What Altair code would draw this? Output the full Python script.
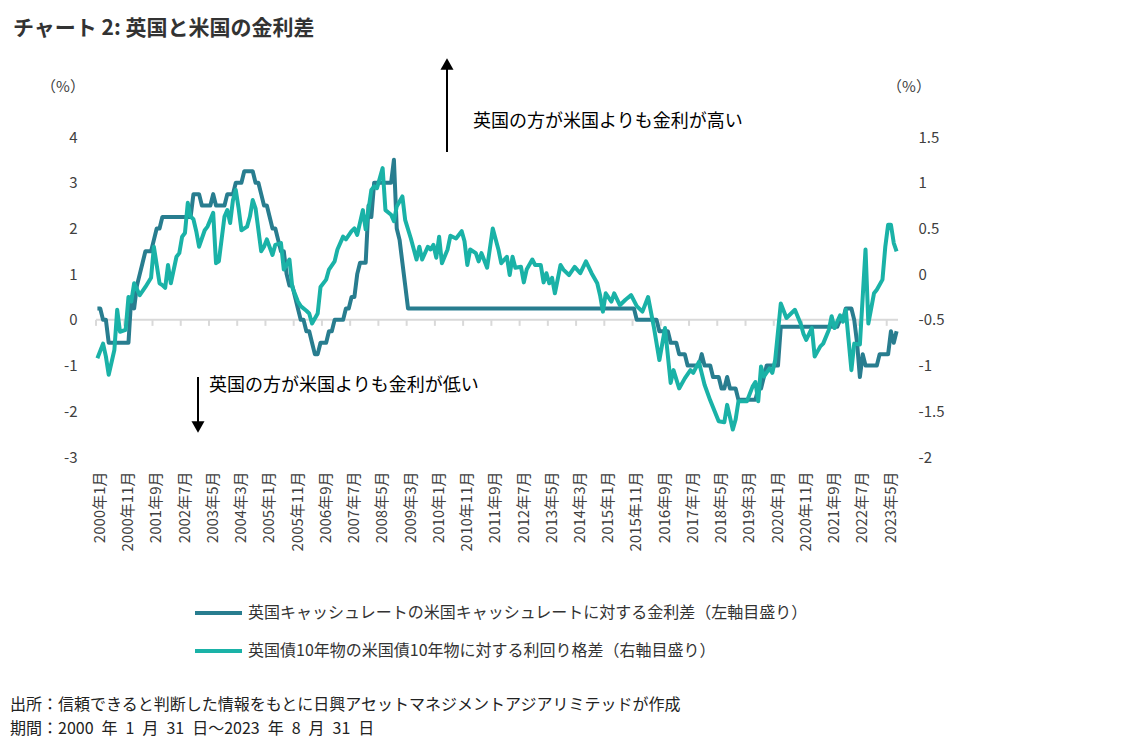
import json
import altair as alt
import pandas as pd

FONT = "Noto Sans CJK JP"
TITLE = "チャート 2: 英国と米国の金利差"
SERIES = [
    "英国キャッシュレートの米国キャッシュレートに対する金利差（左軸目盛り）",
    "英国債10年物の米国債10年物に対する利回り格差（右軸目盛り）",
]
COLORS = ["#287d8f", "#1ab2a7"]
NOTE_SOURCE = "出所：信頼できると判断した情報をもとに日興アセットマネジメントアジアリミテッドが作成"
NOTE_PERIOD = "期間：2000\u2002年\u20021\u2002月\u200231\u2002日～2023\u2002年\u20028\u2002月\u200231\u2002日"
NOTE_UP = "英国の方が米国よりも金利が高い"
NOTE_DOWN = "英国の方が米国よりも金利が低い"
UNIT = "（%）"
BASE_YEAR = 2000

# UK cash rate minus US cash rate (left axis, %), monthly Jan..Dec
CASH_2000 = [0.25, 0.25, 0, 0, -0.5, -0.5, -0.5, -0.5, -0.5, -0.5, -0.5, -0.5]
CASH_2001 = [0.5, 0.25, 0.75, 1.0, 1.25, 1.5, 1.5, 1.5, 1.75, 2.0, 2.0, 2.25]
CASH_2002 = [2.25, 2.25, 2.25, 2.25, 2.25, 2.25, 2.25, 2.25, 2.25, 2.25, 2.75, 2.75]
CASH_2003 = [2.75, 2.5, 2.5, 2.5, 2.5, 2.75, 2.5, 2.5, 2.5, 2.5, 2.75, 2.75]
CASH_2004 = [2.75, 3.0, 3.0, 3.0, 3.25, 3.25, 3.25, 3.25, 3.0, 3.0, 2.75, 2.5]
CASH_2005 = [2.5, 2.25, 2.0, 2.0, 1.75, 1.5, 1.5, 1.0, 0.75, 0.75, 0.5, 0.25]
CASH_2006 = [0, 0, -0.25, -0.25, -0.5, -0.75, -0.75, -0.5, -0.5, -0.5, -0.25, -0.25]
CASH_2007 = [0, 0, 0, 0, 0.25, 0.25, 0.5, 0.5, 1.0, 1.25, 1.25, 1.25]
CASH_2008 = [2.5, 2.25, 3.0, 3.0, 3.0, 3.0, 3.0, 3.0, 3.0, 3.5, 2.0, 1.75]
CASH_2009 = [1.25, 0.75, 0.25, 0.25, 0.25, 0.25, 0.25, 0.25, 0.25, 0.25, 0.25, 0.25]
CASH_2010 = [0.25, 0.25, 0.25, 0.25, 0.25, 0.25, 0.25, 0.25, 0.25, 0.25, 0.25, 0.25]
CASH_2011 = [0.25, 0.25, 0.25, 0.25, 0.25, 0.25, 0.25, 0.25, 0.25, 0.25, 0.25, 0.25]
CASH_2012 = [0.25, 0.25, 0.25, 0.25, 0.25, 0.25, 0.25, 0.25, 0.25, 0.25, 0.25, 0.25]
CASH_2013 = [0.25, 0.25, 0.25, 0.25, 0.25, 0.25, 0.25, 0.25, 0.25, 0.25, 0.25, 0.25]
CASH_2014 = [0.25, 0.25, 0.25, 0.25, 0.25, 0.25, 0.25, 0.25, 0.25, 0.25, 0.25, 0.25]
CASH_2015 = [0.25, 0.25, 0.25, 0.25, 0.25, 0.25, 0.25, 0.25, 0.25, 0.25, 0.25, 0]
CASH_2016 = [0, 0, 0, 0, 0, 0, 0, -0.25, -0.25, -0.25, -0.25, -0.5]
CASH_2017 = [-0.5, -0.5, -0.75, -0.75, -0.75, -1.0, -1.0, -1.0, -1.0, -1.0, -0.75, -1.0]
CASH_2018 = [-1.0, -1.0, -1.25, -1.25, -1.25, -1.5, -1.5, -1.25, -1.5, -1.5, -1.5, -1.75]
CASH_2019 = [-1.75, -1.75, -1.75, -1.75, -1.75, -1.75, -1.5, -1.5, -1.25, -1.0, -1.0, -1.0]
CASH_2020 = [-1.0, -1.0, -0.15, -0.15, -0.15, -0.15, -0.15, -0.15, -0.15, -0.15, -0.15, -0.15]
CASH_2021 = [-0.15, -0.15, -0.15, -0.15, -0.15, -0.15, -0.15, -0.15, -0.15, -0.15, -0.15, 0]
CASH_2022 = [0, 0.25, 0.25, 0.25, 0, -0.5, -1.25, -0.75, -1.0, -1.0, -1.0, -1.0]
CASH_2023 = [-1.0, -0.75, -0.75, -0.75, -0.75, -0.25, -0.5, -0.25]

# UK 10y gilt minus US 10y Treasury yield (right axis, %)
BOND_MONTHS = [
    "2000-01", "2000-03", "2000-04", "2000-05", "2000-07", "2000-08", "2000-09", "2000-11", "2000-12",
    "2001-01", "2001-02", "2001-04", "2001-06", "2001-08", "2001-09", "2001-11", "2001-12",
    "2002-01", "2002-02", "2002-03", "2002-05", "2002-06", "2002-07", "2002-08", "2002-09", "2002-10", "2002-11", "2002-12",
    "2003-01", "2003-03", "2003-04", "2003-06", "2003-07", "2003-08", "2003-10", "2003-11", "2003-12",
    "2004-01", "2004-02", "2004-03", "2004-04", "2004-06", "2004-07", "2004-08", "2004-09", "2004-11", "2004-12",
    "2005-01", "2005-03", "2005-04", "2005-06", "2005-07", "2005-09", "2005-10", "2005-11", "2005-12",
    "2006-01", "2006-03", "2006-04", "2006-05", "2006-07", "2006-08", "2006-10", "2006-11",
    "2007-01", "2007-02", "2007-04", "2007-05", "2007-07", "2007-08", "2007-09", "2007-11", "2007-12",
    "2008-02", "2008-03", "2008-04", "2008-06", "2008-07", "2008-09", "2008-10", "2008-11",
    "2009-01", "2009-02", "2009-04", "2009-06", "2009-07", "2009-08", "2009-10", "2009-11", "2009-12",
    "2010-01", "2010-02", "2010-03", "2010-05", "2010-06", "2010-08", "2010-10", "2010-11", "2010-12",
    "2011-01", "2011-03", "2011-04", "2011-05", "2011-07", "2011-09", "2011-11", "2011-12",
    "2012-02", "2012-03", "2012-04", "2012-05", "2012-07", "2012-08", "2012-09", "2012-11", "2012-12",
    "2013-02", "2013-03", "2013-04", "2013-05", "2013-06", "2013-07", "2013-09", "2013-10", "2013-12",
    "2014-02", "2014-04", "2014-06", "2014-08", "2014-10", "2014-11", "2014-12",
    "2015-01", "2015-03", "2015-04", "2015-06", "2015-08", "2015-10", "2015-12",
    "2016-02", "2016-04", "2016-06", "2016-08", "2016-10", "2016-12",
    "2017-01", "2017-03", "2017-05", "2017-07", "2017-08", "2017-10", "2017-12",
    "2018-02", "2018-05", "2018-07", "2018-08", "2018-10", "2018-11", "2018-12",
    "2019-03", "2019-05", "2019-06", "2019-07", "2019-08", "2019-09", "2019-11", "2019-12",
    "2020-01", "2020-03", "2020-05", "2020-06", "2020-08", "2020-10", "2020-11", "2020-12",
    "2021-02", "2021-03", "2021-05", "2021-06", "2021-08", "2021-09", "2021-10", "2021-12",
    "2022-01", "2022-02", "2022-04", "2022-05", "2022-07", "2022-09", "2022-10", "2022-12",
    "2023-01", "2023-03", "2023-04", "2023-05", "2023-06", "2023-07", "2023-08",
]
BOND_SPREAD = [
    -0.92, -0.76, -0.90, -1.10, -0.83, -0.39, -0.63, -0.61, -0.25,
    -0.30, -0.10, -0.23, -0.14, -0.04, 0.30, -0.10, -0.12,
    -0.15, 0.10, -0.10, 0.19, 0.23, 0.41, 0.45, 0.78, 0.63, 0.60, 0.47,
    0.30, 0.48, 0.52, 0.67, 0.12, 0.14, 0.63, 0.70, 0.56,
    0.81, 0.92, 0.72, 0.48, 0.52, 0.63, 0.81, 0.72, 0.25, 0.30,
    0.38, 0.21, 0.32, 0.34, 0.05, 0.16, -0.14, -0.22, -0.30,
    -0.35, -0.40, -0.43, -0.54, -0.43, -0.14, -0.06, 0.05,
    0.14, 0.27, 0.41, 0.38, 0.47, 0.50, 0.43, 0.70, 0.49,
    0.92, 0.96, 0.94, 1.16, 0.70, 0.65, 0.58, 0.74,
    0.85, 0.59, 0.39, 0.16, 0.30, 0.16, 0.30, 0.27, 0.32,
    0.18, 0.41, 0.12, 0.27, 0.42, 0.39, 0.47, 0.36, 0.10,
    0.27, 0.23, 0.14, 0.23, 0.07, 0.50, 0.27, 0.12,
    0.19, -0.01, 0.19, 0.07, 0.08, -0.09, 0.05, 0.16, 0.10,
    0.10, -0.09, 0.01, -0.10, -0.04, -0.21, 0.10, 0.05, -0.01,
    0.08, 0.01, 0.14, 0.01, -0.10, -0.23, -0.41,
    -0.21, -0.30, -0.21, -0.34, -0.28, -0.23, -0.35,
    -0.41, -0.25, -0.57, -0.94, -0.59, -1.19,
    -1.05, -1.25, -1.14, -1.05, -1.08, -0.96, -1.21,
    -1.38, -1.61, -1.62, -1.43, -1.70, -1.59, -1.39,
    -1.39, -1.23, -1.18, -1.39, -1.01, -1.12, -1.03, -1.08,
    -0.94, -0.32, -0.48, -0.45, -0.39, -0.54, -0.65, -0.72,
    -0.59, -0.90, -0.79, -0.76, -0.61, -0.46, -0.59, -0.45,
    -0.52, -0.39, -1.05, -0.76, -0.77, 0.27, -0.54, -0.21,
    -0.17, -0.06, 0.30, 0.54, 0.54, 0.34, 0.25,
]

TICK_LABELS = [
    "2000年1月", "2000年11月", "2001年9月", "2002年7月", "2003年5月", "2004年3月",
    "2005年1月", "2005年11月", "2006年9月", "2007年7月", "2008年5月", "2009年3月",
    "2010年1月", "2010年11月", "2011年9月", "2012年7月", "2013年5月", "2014年3月",
    "2015年1月", "2015年11月", "2016年9月", "2017年7月", "2018年5月", "2019年3月",
    "2020年1月", "2020年11月", "2021年9月", "2022年7月", "2023年5月",
]
LEFT_TICKS = [-3, -2, -1, 0, 1, 2, 3, 4]
RIGHT_TICKS = [-2, -1.5, -1, -0.5, 0, 0.5, 1, 1.5]


def month_index(s):
    y, m = s.split("-")
    return (int(y) - BASE_YEAR) * 12 + int(m) - 1


def label_index(lbl):
    y, rest = lbl.split("年")
    return (int(y) - BASE_YEAR) * 12 + int(rest.rstrip("月")) - 1


cash_values = (CASH_2000 + CASH_2001 + CASH_2002 + CASH_2003 + CASH_2004 + CASH_2005
               + CASH_2006 + CASH_2007 + CASH_2008 + CASH_2009 + CASH_2010 + CASH_2011
               + CASH_2012 + CASH_2013 + CASH_2014 + CASH_2015 + CASH_2016 + CASH_2017
               + CASH_2018 + CASH_2019 + CASH_2020 + CASH_2021 + CASH_2022 + CASH_2023)
cash_df = pd.DataFrame({"m": list(range(len(cash_values))), "v": cash_values, "series": SERIES[0]})
bond_df = pd.DataFrame({"m": [month_index(s) for s in BOND_MONTHS], "v": BOND_SPREAD, "series": SERIES[1]})
tick_months = [label_index(l) for l in TICK_LABELS]
tick_df = pd.DataFrame({"m": tick_months})
one = pd.DataFrame({"k": [0]})

W, H = 802, 320
LABEL_COLOR = "#404040"
label_expr = json.dumps(TICK_LABELS, ensure_ascii=False) + "[round(datum.value/10)]"

x_enc = alt.X(
    "m:Q",
    scale=alt.Scale(domain=[-0.5, 283.5], nice=False, zero=False),
    axis=alt.Axis(values=tick_months, labelExpr=label_expr, labelAngle=-90,
                  labelAlign="right", labelBaseline="middle", labelFlush=False,
                  labelOverlap=False, labelPadding=14, labelOffset=2, domain=False,
                  ticks=False, grid=False, title=None, labelFontSize=15,
                  labelColor=LABEL_COLOR, labelFont=FONT),
)

left_scale = alt.Scale(domain=[-3, 4], nice=False, zero=False)
left_axis = alt.Axis(values=LEFT_TICKS, labelExpr="''+datum.value", domain=False,
                     ticks=False, grid=False, title=None, labelPadding=19,
                     labelFontSize=15, labelColor=LABEL_COLOR, labelFont=FONT)

color_enc = alt.Color(
    "series:N",
    scale=alt.Scale(domain=SERIES, range=COLORS),
    legend=alt.Legend(orient="none", legendX=97, legendY=465, direction="vertical",
                      symbolType="stroke", symbolSize=2209, symbolStrokeWidth=4,
                      labelFontSize=16, labelFont=FONT, labelColor="#333333",
                      labelLimit=0, clipHeight=22, rowPadding=16, title=None,
                      padding=0, labelOffset=4),
)

zero_rule = alt.Chart(one).mark_rule(color="#d9d9d9", strokeWidth=2).encode(
    y=alt.YDatum(0, scale=left_scale, axis=left_axis)
)
tick_rules = alt.Chart(tick_df).mark_rule(color="#d9d9d9", strokeWidth=2, y2Offset=6, xOffset=-1.4).encode(
    x=x_enc, y=alt.YDatum(0, scale=left_scale, axis=left_axis), y2=alt.datum(0)
)
dark_line = alt.Chart(cash_df).mark_line(strokeWidth=4, strokeJoin="round").encode(
    x=x_enc,
    y=alt.Y("v:Q", scale=left_scale, axis=left_axis),
    color=color_enc,
)
dark_group = alt.layer(zero_rule, tick_rules, dark_line)

teal_line = alt.Chart(bond_df).mark_line(strokeWidth=4, strokeJoin="round").encode(
    x=x_enc,
    y=alt.Y("v:Q", scale=alt.Scale(domain=[-2, 1.5], nice=False, zero=False),
            axis=alt.Axis(orient="right", values=RIGHT_TICKS, labelExpr="''+datum.value",
                          domain=False, ticks=False, grid=False, title=None,
                          labelPadding=20, labelFontSize=15, labelColor=LABEL_COLOR,
                          labelFont=FONT)),
    color=color_enc,
)


def text_layer(text, x, y, size, weight="normal", color="#000000", align="left"):
    return alt.Chart(pd.DataFrame({"t": [text]})).mark_text(
        align=align, baseline="middle", fontSize=size, fontWeight=weight,
        color=color, font=FONT
    ).encode(text="t:N", x=alt.value(x), y=alt.value(y))


def arrow(x, y_tail, y_shaft_end, y_head, shape):
    shaft = alt.Chart(one).mark_rule(color="#000000", strokeWidth=2).encode(
        x=alt.value(x), y=alt.value(y_tail), y2=alt.value(y_shaft_end)
    )
    head = alt.Chart(one).mark_point(shape=shape, filled=True, size=170, color="#000000", opacity=1).encode(
        x=alt.value(x), y=alt.value(y_head)
    )
    return shaft + head


annotations = [
    text_layer(TITLE, -83, -108, 21, weight="bold", color="#333333"),
    text_layer(UNIT, -33, -50, 15, color=LABEL_COLOR, align="center"),
    text_layer(UNIT, 813, -50, 15, color=LABEL_COLOR, align="center"),
    arrow(351, 15, -70, -73, "triangle-up"),
    text_layer(NOTE_UP, 377, -15, 18),
    arrow(102, 240, 289, 290, "triangle-down"),
    text_layer(NOTE_DOWN, 113, 249, 18),
    text_layer(NOTE_SOURCE, -86, 568, 16, color="#222222"),
    text_layer(NOTE_PERIOD, -86, 592, 16, color="#222222"),
]

chart = alt.layer(dark_group, teal_line, *annotations).resolve_scale(
    y="independent"
).properties(
    width=W, height=H,
    padding={"left": 88, "top": 129, "right": 227, "bottom": 286},
    autosize=alt.AutoSizeParams(type="none"),
    background="#ffffff",
).configure_view(stroke=None)

chart.save("out.html", embed_options={"renderer": "svg", "actions": False})
